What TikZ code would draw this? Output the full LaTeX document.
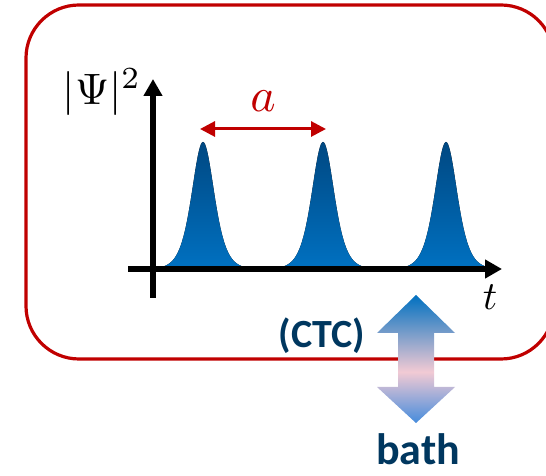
\documentclass[tikz,border=0pt]{standalone}
\usepackage{graphicx}
\usepackage{fontspec}
\newfontfamily\labelfont{Carlito}
\usetikzlibrary{arrows.meta,positioning,calc}
\definecolor{boxred}{RGB}{192,0,0}
\definecolor{peaktop}{RGB}{0,72,130}
\definecolor{peakbot}{RGB}{0,112,192}
\definecolor{navy}{RGB}{0,55,95}
\definecolor{pinkish}{RGB}{242,202,212}
\definecolor{arrowlow}{RGB}{70,140,220}
\pgfdeclareverticalshading{coupling}{100bp}{color(0bp)=(arrowlow); color(25bp)=(arrowlow);
  color(45bp)=(pinkish); color(75bp)=(peakbot); color(100bp)=(peakbot)}

\begin{document}
\begin{tikzpicture}[x=1pt,y=1pt,
    axis/.style={line width=5.5pt,-{Triangle[length=17pt,width=18pt]}},
    bluelabel/.style={text=navy,font=\labelfont\bfseries}]
  \useasboundingbox (0,0) rectangle (546,476);
  \clip (0,0) rectangle (546,476);
  % frame of the crystal
  \draw[boxred,line width=3.2pt,rounded corners=53pt] (26,117) rectangle (554,471);
  % peaks
  \foreach \px in {203,323,446}
    \fill[top color=peaktop,bottom color=peakbot]
      plot[domain=-40:40,samples=81,smooth] ({\px+\x},{207+127/(cosh(\x/15)*cosh(\x/15))}) -- cycle;
  % axes
  \coordinate (xstart) at (128,207);
  \coordinate (xend) at (502,207);
  \coordinate (ystart) at (153,178);
  \coordinate (yend) at (153,397);
  \draw[axis] (xstart) -- (xend);
  \draw[axis] (ystart) -- (yend);
  \node (psi) at (102,384) {\scalebox{4.4}{$|\Psi|^2$}};
  \node (tlab) at (490,179) {\scalebox{4}{$t$}};
  % period
  \coordinate (al) at (200,347);
  \coordinate (ar) at (326,347);
  \draw[boxred,line width=3pt,{Triangle[length=15pt,width=15pt]}-{Triangle[length=15pt,width=15pt]}] (al) -- (ar);
  \node[text=boxred] (alab) at (263,375) {\scalebox{4.8}{$a$}};
  % coupling to the bath
  \coordinate (up) at (416,181);
  \coordinate (dn) at (416,53);
  \shade[shading=coupling]
    (up) -- (455,143) -- (434,143) -- (434,89) -- (455,89) -- (dn)
    -- (377,89) -- (398,89) -- (398,143) -- (377,143) -- cycle;
  \node[bluelabel,font=\labelfont\bfseries\fontsize{40}{44}\selectfont] (ctc) at (322,140) {(CTC)};
  \node[bluelabel,font=\labelfont\bfseries\fontsize{44}{48}\selectfont,anchor=base,inner sep=0pt] (bath) at (418,11) {bath};
\end{tikzpicture}
\end{document}
